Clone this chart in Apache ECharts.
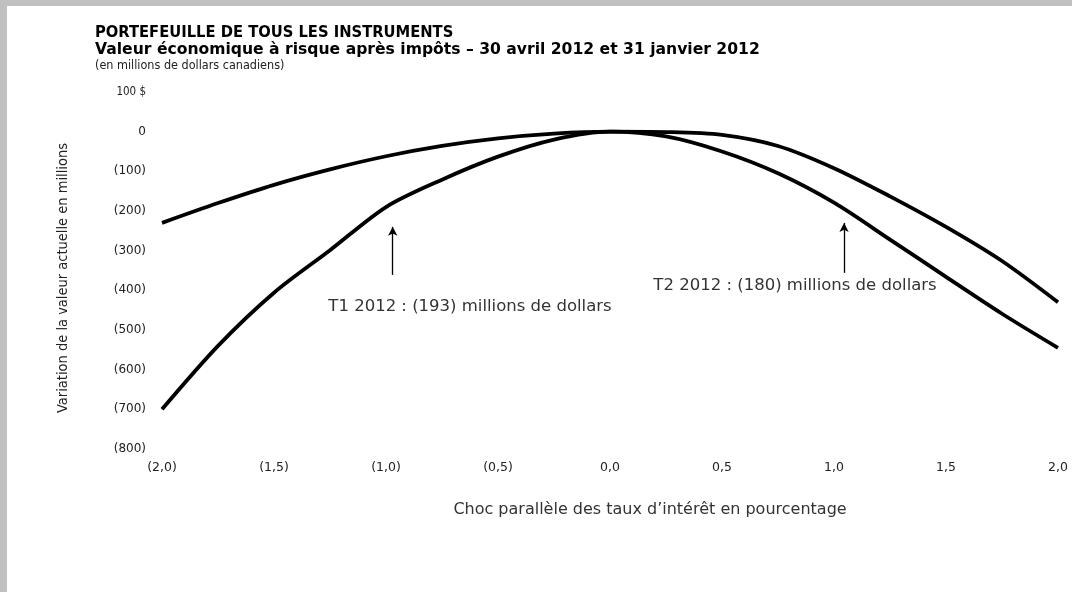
<!DOCTYPE html>
<html>
<head>
<meta charset="utf-8">
<script src="https://cdn.jsdelivr.net/npm/echarts@6/dist/echarts.min.js"></script>
<style>
html,body{margin:0;padding:0;background:#fff;}
#c{width:1072px;height:592px;}
</style>
</head>
<body>
<div id="c"></div>
<script>
// Data
var shocks = [-2, -1.75, -1.5, -1.25, -1, -0.75, -0.5, -0.25, 0, 0.25, 0.5, 0.75, 1, 1.25, 1.5, 1.75, 2];
var t1Values = [-700, -540, -406, -299, -190, -121, -63, -20, 0, -1, -8, -36, -92, -163, -240, -326, -430];
var t2Values = [-230, -180, -134, -95, -62, -36, -17, -5, 0, -12, -50, -105, -179, -272, -366, -459, -545];
var yTicks = { min: -800, max: 100, interval: 100 };
var xTicks = { min: -2, max: 2, interval: 0.5 };
var titleMain = 'PORTEFEUILLE DE TOUS LES INSTRUMENTS';
var titleSub = 'Valeur économique à risque après impôts – 30 avril 2012 et 31 janvier 2012';
var titleUnit = '(en millions de dollars canadiens)';
var yName = 'Variation de la valeur actuelle en millions';
var xName = 'Choc parallèle des taux d’intérêt en pourcentage';
var noteT1 = { text: 'T1 2012 : (193) millions de dollars', arrowX: -0.97, arrowFrom: -361, arrowTo: -240, textX: -0.625, textY: -442 };
var noteT2 = { text: 'T2 2012 : (180) millions de dollars', arrowX: 1.045, arrowFrom: -356, arrowTo: -230, textX: 0.826, textY: -389 };

function pairs(xs, ys) { return xs.map(function (x, i) { return [x, ys[i]]; }); }
function fmtX(v) {
  var s = Math.abs(v).toFixed(1).replace('.', ',');
  return v < 0 ? '(' + s + ')' : s;
}
function fmtY(v) {
  if (v === 100) return '{d|100 $}';
  if (v < 0) return '(' + Math.abs(v) + ')';
  return String(v);
}

var chart = echarts.init(document.getElementById('c'));
var arrowStyle = { color: '#000', width: 1.3, type: 'solid' };
function arrowLine(n) {
  return {
    silent: true, symbol: ['none', 'arrow'], symbolSize: [7, 9],
    label: { show: false }, lineStyle: arrowStyle, animation: false,
    data: [[{ coord: [n.arrowX, n.arrowFrom] }, { coord: [n.arrowX, n.arrowTo] }]]
  };
}
var option = {
  backgroundColor: '#fff',
  animation: false,
  grid: { left: 162, right: 14, top: 92, bottom: 143 },
  xAxis: {
    type: 'value', min: xTicks.min, max: xTicks.max, interval: xTicks.interval,
    axisLine: { show: false }, axisTick: { show: false }, splitLine: { show: false },
    axisLabel: { formatter: fmtX, color: '#222', fontFamily: 'DejaVu Sans', fontSize: 12.5, margin: 12 }
  },
  yAxis: {
    type: 'value', min: yTicks.min, max: yTicks.max, interval: yTicks.interval,
    axisLine: { show: false }, axisTick: { show: false }, splitLine: { show: false },
    axisLabel: {
      formatter: fmtY, color: '#222', fontFamily: 'DejaVu Sans', fontSize: 12, margin: 16,
      rich: { d: { fontFamily: 'DejaVu Sans Condensed', fontSize: 11.5, color: '#222' } }
    }
  },
  series: [
    { name: 'T1 2012', type: 'line', data: pairs(shocks, t1Values), smooth: 0.3, showSymbol: false,
      lineStyle: { color: '#000', width: 3.8 }, markLine: arrowLine(noteT1) },
    { name: 'T2 2012', type: 'line', data: pairs(shocks, t2Values), smooth: 0.3, showSymbol: false,
      lineStyle: { color: '#000', width: 3.8 }, markLine: arrowLine(noteT2) }
  ]
};
chart.setOption(option);

var p1 = chart.convertToPixel({ gridIndex: 0 }, [noteT1.textX, noteT1.textY]);
var p2 = chart.convertToPixel({ gridIndex: 0 }, [noteT2.textX, noteT2.textY]);
var noteFont = { fontFamily: 'DejaVu Sans', fontSize: 16.5, fill: '#333', textAlign: 'center', textVerticalAlign: 'middle' };
chart.setOption({
  graphic: [
    { type: 'rect', shape: { x: 0, y: 0, width: 1072, height: 6 }, style: { fill: '#c0c0c0' }, silent: true },
    { type: 'rect', shape: { x: 0, y: 0, width: 7, height: 592 }, style: { fill: '#c0c0c0' }, silent: true },
    { type: 'text', x: 95, y: 33, style: { text: titleMain, fontFamily: 'DejaVu Sans Condensed', fontWeight: 'bold', fontSize: 16.4, fill: '#000', textVerticalAlign: 'middle' } },
    { type: 'text', x: 95, y: 50, style: { text: titleSub, fontFamily: 'DejaVu Sans', fontWeight: 'bold', fontSize: 15.6, fill: '#000', textVerticalAlign: 'middle' } },
    { type: 'text', x: 95, y: 66, style: { text: titleUnit, fontFamily: 'DejaVu Sans Condensed', fontSize: 12.5, fill: '#222', textVerticalAlign: 'middle' } },
    { type: 'text', x: 63, y: 278, rotation: Math.PI / 2, style: { text: yName, fontFamily: 'DejaVu Sans Condensed', fontSize: 14.5, fill: '#222', textAlign: 'center', textVerticalAlign: 'middle' } },
    { type: 'text', x: 650, y: 510, style: { text: xName, fontFamily: 'DejaVu Sans', fontSize: 16, fill: '#333', textAlign: 'center', textVerticalAlign: 'middle' } },
    { type: 'text', x: p1[0], y: p1[1], style: Object.assign({ text: noteT1.text }, noteFont) },
    { type: 'text', x: p2[0], y: p2[1], style: Object.assign({ text: noteT2.text }, noteFont) }
  ]
});
</script>
</body>
</html>
